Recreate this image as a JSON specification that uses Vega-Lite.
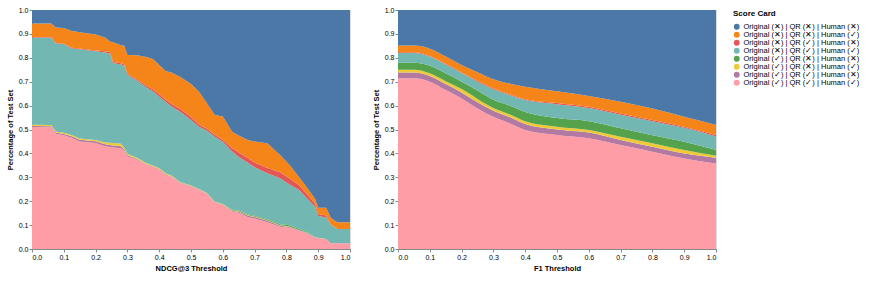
{
  "$schema": "https://vega.github.io/schema/vega-lite/v6.json",
  "datasets": {
    "cards": [
      {"k": "a", "card": "Original (✓) | QR (✓) | Human (✓)"},
      {"k": "b", "card": "Original (✓) | QR (✓) | Human (✕)"},
      {"k": "c", "card": "Original (✓) | QR (✕) | Human (✓)"},
      {"k": "d", "card": "Original (✓) | QR (✕) | Human (✕)"},
      {"k": "e", "card": "Original (✕) | QR (✓) | Human (✓)"},
      {"k": "f", "card": "Original (✕) | QR (✓) | Human (✕)"},
      {"k": "g", "card": "Original (✕) | QR (✕) | Human (✓)"},
      {"k": "h", "card": "Original (✕) | QR (✕) | Human (✕)"}
    ],
    "ndcg": [
      {"t": 0, "a": 0.51, "b": 0.005, "c": 0.005, "d": 0, "e": 0.365, "f": 0.002, "g": 0.056, "h": 0.057},
      {"t": 0.06, "a": 0.509, "b": 0.005, "c": 0.005, "d": 0, "e": 0.366, "f": 0.002, "g": 0.056, "h": 0.057},
      {"t": 0.075, "a": 0.482, "b": 0.005, "c": 0.005, "d": 0, "e": 0.368, "f": 0.002, "g": 0.065, "h": 0.073},
      {"t": 0.1, "a": 0.476, "b": 0.005, "c": 0.005, "d": 0, "e": 0.372, "f": 0.002, "g": 0.065, "h": 0.075},
      {"t": 0.125, "a": 0.466, "b": 0.006, "c": 0.005, "d": 0, "e": 0.362, "f": 0.003, "g": 0.07, "h": 0.088},
      {"t": 0.15, "a": 0.45, "b": 0.007, "c": 0.005, "d": 0, "e": 0.374, "f": 0.003, "g": 0.068, "h": 0.093},
      {"t": 0.2, "a": 0.443, "b": 0.008, "c": 0.005, "d": 0, "e": 0.371, "f": 0.004, "g": 0.066, "h": 0.103},
      {"t": 0.23, "a": 0.43, "b": 0.008, "c": 0.008, "d": 0, "e": 0.376, "f": 0.005, "g": 0.058, "h": 0.115},
      {"t": 0.245, "a": 0.427, "b": 0.008, "c": 0.01, "d": 0, "e": 0.373, "f": 0.006, "g": 0.044, "h": 0.132},
      {"t": 0.255, "a": 0.425, "b": 0.008, "c": 0.01, "d": 0, "e": 0.334, "f": 0.005, "g": 0.083, "h": 0.135},
      {"t": 0.28, "a": 0.422, "b": 0.008, "c": 0.01, "d": 0, "e": 0.332, "f": 0.005, "g": 0.076, "h": 0.147},
      {"t": 0.29, "a": 0.41, "b": 0.006, "c": 0.008, "d": 0, "e": 0.344, "f": 0.005, "g": 0.077, "h": 0.15},
      {"t": 0.3, "a": 0.387, "b": 0.005, "c": 0.006, "d": 0, "e": 0.33, "f": 0.004, "g": 0.08, "h": 0.188},
      {"t": 0.33, "a": 0.373, "b": 0.004, "c": 0.005, "d": 0, "e": 0.323, "f": 0.005, "g": 0.101, "h": 0.189},
      {"t": 0.36, "a": 0.352, "b": 0.003, "c": 0.004, "d": 0, "e": 0.317, "f": 0.007, "g": 0.12, "h": 0.197},
      {"t": 0.38, "a": 0.342, "b": 0.003, "c": 0.004, "d": 0, "e": 0.311, "f": 0.008, "g": 0.127, "h": 0.205},
      {"t": 0.4, "a": 0.331, "b": 0.003, "c": 0.004, "d": 0, "e": 0.299, "f": 0.01, "g": 0.123, "h": 0.23},
      {"t": 0.42, "a": 0.31, "b": 0.003, "c": 0.004, "d": 0, "e": 0.299, "f": 0.01, "g": 0.119, "h": 0.255},
      {"t": 0.44, "a": 0.3, "b": 0.002, "c": 0.004, "d": 0, "e": 0.289, "f": 0.012, "g": 0.13, "h": 0.263},
      {"t": 0.465, "a": 0.276, "b": 0.002, "c": 0.002, "d": 0, "e": 0.295, "f": 0.012, "g": 0.134, "h": 0.279},
      {"t": 0.5, "a": 0.262, "b": 0.002, "c": 0.002, "d": 0, "e": 0.274, "f": 0.012, "g": 0.138, "h": 0.31},
      {"t": 0.525, "a": 0.247, "b": 0.002, "c": 0.002, "d": 0, "e": 0.26, "f": 0.01, "g": 0.137, "h": 0.342},
      {"t": 0.55, "a": 0.23, "b": 0.002, "c": 0.002, "d": 0, "e": 0.261, "f": 0.008, "g": 0.107, "h": 0.39},
      {"t": 0.575, "a": 0.194, "b": 0.002, "c": 0.002, "d": 0, "e": 0.272, "f": 0.008, "g": 0.083, "h": 0.439},
      {"t": 0.6, "a": 0.184, "b": 0.002, "c": 0.002, "d": 0.001, "e": 0.26, "f": 0.008, "g": 0.097, "h": 0.446},
      {"t": 0.63, "a": 0.156, "b": 0.003, "c": 0.002, "d": 0.002, "e": 0.244, "f": 0.015, "g": 0.068, "h": 0.51},
      {"t": 0.65, "a": 0.152, "b": 0.004, "c": 0.002, "d": 0.003, "e": 0.224, "f": 0.02, "g": 0.07, "h": 0.525},
      {"t": 0.68, "a": 0.133, "b": 0.006, "c": 0.002, "d": 0.003, "e": 0.216, "f": 0.02, "g": 0.075, "h": 0.545},
      {"t": 0.7, "a": 0.128, "b": 0.006, "c": 0.002, "d": 0.003, "e": 0.203, "f": 0.02, "g": 0.088, "h": 0.55},
      {"t": 0.74, "a": 0.112, "b": 0.006, "c": 0.002, "d": 0.004, "e": 0.193, "f": 0.022, "g": 0.103, "h": 0.558},
      {"t": 0.78, "a": 0.093, "b": 0.004, "c": 0.002, "d": 0.005, "e": 0.192, "f": 0.025, "g": 0.072, "h": 0.607},
      {"t": 0.81, "a": 0.089, "b": 0.003, "c": 0.002, "d": 0.005, "e": 0.171, "f": 0.025, "g": 0.056, "h": 0.649},
      {"t": 0.84, "a": 0.077, "b": 0.002, "c": 0.001, "d": 0.004, "e": 0.163, "f": 0.02, "g": 0.033, "h": 0.7},
      {"t": 0.86, "a": 0.068, "b": 0.002, "c": 0.001, "d": 0.003, "e": 0.145, "f": 0.018, "g": 0.029, "h": 0.734},
      {"t": 0.89, "a": 0.047, "b": 0.001, "c": 0.001, "d": 0.001, "e": 0.127, "f": 0.012, "g": 0.021, "h": 0.79},
      {"t": 0.9, "a": 0.045, "b": 0.001, "c": 0.001, "d": 0, "e": 0.091, "f": 0.008, "g": 0.027, "h": 0.827},
      {"t": 0.925, "a": 0.042, "b": 0, "c": 0, "d": 0, "e": 0.09, "f": 0.008, "g": 0.033, "h": 0.827},
      {"t": 0.94, "a": 0.024, "b": 0, "c": 0, "d": 0, "e": 0.076, "f": 0.003, "g": 0.027, "h": 0.87},
      {"t": 0.96, "a": 0.024, "b": 0, "c": 0, "d": 0, "e": 0.06, "f": 0, "g": 0.028, "h": 0.888},
      {"t": 1, "a": 0.024, "b": 0, "c": 0, "d": 0, "e": 0.06, "f": 0, "g": 0.028, "h": 0.888}
    ],
    "f1": [
      {"t": 0, "a": 0.714, "b": 0.024, "c": 0.012, "d": 0.029, "e": 0.041, "f": 0.003, "g": 0.028, "h": 0.149},
      {"t": 0.05, "a": 0.714, "b": 0.024, "c": 0.012, "d": 0.029, "e": 0.041, "f": 0.003, "g": 0.028, "h": 0.149},
      {"t": 0.1, "a": 0.7, "b": 0.024, "c": 0.011, "d": 0.032, "e": 0.038, "f": 0.003, "g": 0.03, "h": 0.162},
      {"t": 0.15, "a": 0.665, "b": 0.025, "c": 0.012, "d": 0.033, "e": 0.037, "f": 0.003, "g": 0.03, "h": 0.195},
      {"t": 0.2, "a": 0.63, "b": 0.025, "c": 0.014, "d": 0.031, "e": 0.036, "f": 0.003, "g": 0.031, "h": 0.23},
      {"t": 0.25, "a": 0.588, "b": 0.026, "c": 0.014, "d": 0.035, "e": 0.037, "f": 0.004, "g": 0.036, "h": 0.26},
      {"t": 0.3, "a": 0.553, "b": 0.025, "c": 0.012, "d": 0.034, "e": 0.044, "f": 0.004, "g": 0.038, "h": 0.29},
      {"t": 0.35, "a": 0.526, "b": 0.026, "c": 0.012, "d": 0.036, "e": 0.044, "f": 0.004, "g": 0.044, "h": 0.308},
      {"t": 0.4, "a": 0.498, "b": 0.025, "c": 0.012, "d": 0.038, "e": 0.05, "f": 0.004, "g": 0.052, "h": 0.321},
      {"t": 0.5, "a": 0.477, "b": 0.023, "c": 0.012, "d": 0.036, "e": 0.058, "f": 0.005, "g": 0.049, "h": 0.34},
      {"t": 0.6, "a": 0.463, "b": 0.024, "c": 0.011, "d": 0.037, "e": 0.055, "f": 0.005, "g": 0.045, "h": 0.36},
      {"t": 0.7, "a": 0.435, "b": 0.021, "c": 0.014, "d": 0.035, "e": 0.057, "f": 0.005, "g": 0.049, "h": 0.384},
      {"t": 0.8, "a": 0.407, "b": 0.021, "c": 0.014, "d": 0.034, "e": 0.059, "f": 0.005, "g": 0.048, "h": 0.412},
      {"t": 0.9, "a": 0.379, "b": 0.021, "c": 0.014, "d": 0.035, "e": 0.058, "f": 0.005, "g": 0.041, "h": 0.447},
      {"t": 1, "a": 0.358, "b": 0.024, "c": 0.008, "d": 0.024, "e": 0.057, "f": 0.006, "g": 0.042, "h": 0.481}
    ]
  },
  "config": {
    "font": "Liberation Sans",
    "axis": {"labelFontSize": 7, "titleFontSize": 7.5, "tickSize": 3, "labelPadding": 1, "titlePadding": 4, "grid": false},
    "legend": {"titleFontSize": 8, "labelFontSize": 7.5, "symbolSize": 34, "rowPadding": -2.2, "symbolType": "circle", "symbolStrokeWidth": 0, "labelOffset": 3, "offset": 16, "titlePadding": 5}
  },
  "spacing": 20,
  "hconcat": [
    {
      "width": 318,
      "height": 239,
      "data": {"name": "ndcg"},
      "transform": [
        {"fold": ["a", "b", "c", "d", "e", "f", "g", "h"], "as": ["k", "share"]},
        {"lookup": "k", "from": {"data": {"name": "cards"}, "key": "k", "fields": ["card"]}}
      ],
      "mark": {"type": "area"},
      "encoding": {
        "x": {"field": "t", "type": "quantitative", "title": "NDCG@3 Threshold", "scale": {"domain": [0, 1]}, "axis": {"format": ".1f", "tickCount": 10}},
        "y": {"field": "share", "type": "quantitative", "stack": "zero", "title": "Percentage of Test Set", "scale": {"domain": [0, 1]}, "axis": {"format": ".1f", "tickCount": 10}},
        "color": {"field": "card", "type": "nominal", "title": "Score Card",
          "scale": {"domain": ["Original (✕) | QR (✕) | Human (✕)", "Original (✕) | QR (✕) | Human (✓)", "Original (✕) | QR (✓) | Human (✕)", "Original (✕) | QR (✓) | Human (✓)", "Original (✓) | QR (✕) | Human (✕)", "Original (✓) | QR (✕) | Human (✓)", "Original (✓) | QR (✓) | Human (✕)", "Original (✓) | QR (✓) | Human (✓)"],
                    "range": ["#4c78a8", "#f58518", "#e45756", "#72b7b2", "#54a24b", "#eeca3b", "#b279a2", "#ff9da6"]}},
        "order": {"field": "k", "sort": "ascending"}
      }
    },
    {
      "width": 318,
      "height": 239,
      "data": {"name": "f1"},
      "transform": [
        {"fold": ["a", "b", "c", "d", "e", "f", "g", "h"], "as": ["k", "share"]},
        {"lookup": "k", "from": {"data": {"name": "cards"}, "key": "k", "fields": ["card"]}}
      ],
      "mark": {"type": "area", "interpolate": "monotone"},
      "encoding": {
        "x": {"field": "t", "type": "quantitative", "title": "F1 Threshold", "scale": {"domain": [0, 1]}, "axis": {"format": ".1f", "tickCount": 10}},
        "y": {"field": "share", "type": "quantitative", "stack": "zero", "title": "Percentage of Test Set", "scale": {"domain": [0, 1]}, "axis": {"format": ".1f", "tickCount": 10}},
        "color": {"field": "card", "type": "nominal", "title": "Score Card"},
        "order": {"field": "k", "sort": "ascending"}
      }
    }
  ]
}
